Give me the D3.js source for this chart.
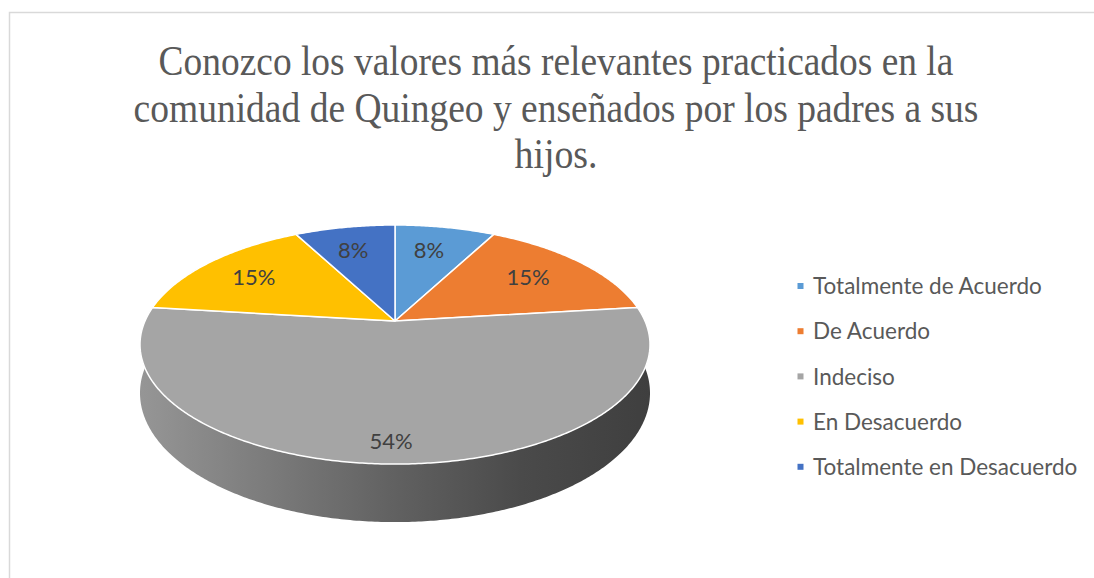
<!DOCTYPE html>
<html><head><meta charset="utf-8">
<script src="https://cdn.jsdelivr.net/npm/d3@7"></script>
<style>html,body{margin:0;padding:0;background:#fff;}svg{display:block;}</style>
</head><body>
<svg id="chart" width="1094" height="578"></svg>
<script>
const titleLines = ["Conozco los valores más relevantes practicados en la", "comunidad de Quingeo y enseñados por los padres a sus", "hijos."];
const categories = ["Totalmente de Acuerdo", "De Acuerdo", "Indeciso", "En Desacuerdo", "Totalmente en Desacuerdo"];
const values = [1, 2, 7, 2, 1];
const palette = ["#5B9BD5", "#ED7D31", "#A5A5A5", "#FFC000", "#4472C4"];

const svg = d3.select("#chart");
const W = 1094, H = 578;
svg.append("rect").attr("x", 9.5).attr("y", 12.5).attr("width", W + 10).attr("height", H + 10)
  .attr("fill", "#fff").attr("stroke", "#d9d9d9").attr("stroke-width", 1.5);

// Title (condensed serif, fitted to the reference line widths)
const titleWidths = [795, 845, 83];
const tg = svg.append("g");
titleLines.forEach((t, i) => {
  const g = tg.append("g").attr("transform", `translate(556, ${75 + i * 46.5})`);
  const txt = g.append("text").attr("text-anchor", "middle")
    .attr("font-family", "'Liberation Serif','Times New Roman',serif")
    .attr("font-size", 42).attr("fill", "#595959").text(t);
  const natural = txt.node().getComputedTextLength();
  txt.attr("transform", `scale(${titleWidths[i] / natural}, 1)`);
});

// 3D perspective pie projection
const cx = 395, cy = 321, A = 250, B = 114.9, K = 0.197, DEPTH = 46.6;
function proj(theta, r, drop) {
  const u = r * Math.sin(theta), v = r * Math.cos(theta);
  const w = 1 + K * v;
  return [cx + A * u / w, cy - B * v / w + (drop ? DEPTH / w : 0)];
}
const color = d3.scaleOrdinal().domain(categories).range(palette);
const total = d3.sum(values);
const pie = d3.pie().sort(null).value(d => d.value);
const arcs = pie(categories.map((c, i) => ({ cat: c, value: values[i] })));
const line = d3.line();
function samples(a0, a1) {
  const n = Math.max(2, Math.ceil(Math.abs(a1 - a0) / 0.01));
  return d3.range(n + 1).map(i => a0 + (a1 - a0) * i / n);
}

// side-wall gradients
const defs = svg.append("defs");
arcs.forEach((a, i) => {
  const base = d3.color(color(a.data.cat));
  const g = defs.append("linearGradient").attr("id", "side" + i)
    .attr("gradientUnits", "userSpaceOnUse").attr("x1", 139).attr("x2", 650).attr("y1", 0).attr("y2", 0);
  [[0, 0.27], [0.3, 0.95], [0.5, 1.5], [0.75, 2.25], [1, 2.7]].forEach(([o, k]) => {
    g.append("stop").attr("offset", o).attr("stop-color", base.darker(k).formatHex());
  });
});

// side walls (front region only)
const frontLo = Math.PI / 3, frontHi = Math.PI * 5 / 3;
const sideG = svg.append("g");
arcs.forEach((a, i) => {
  const s = Math.max(a.startAngle, frontLo), e = Math.min(a.endAngle, frontHi);
  if (e <= s) return;
  const ts = samples(s, e);
  const pts = ts.map(t => proj(t, 1, false)).concat(ts.slice().reverse().map(t => proj(t, 1, true)));
  sideG.append("path").attr("d", line(pts) + "Z").attr("fill", `url(#side${i})`);
});

// top faces
const topG = svg.append("g");
arcs.forEach((a, i) => {
  const pts = [proj(0, 0, false)].concat(samples(a.startAngle, a.endAngle).map(t => proj(t, 1, false)));
  topG.append("path").attr("d", line(pts) + "Z")
    .attr("fill", color(a.data.cat)).attr("stroke", "#fff").attr("stroke-width", 1.5).attr("stroke-linejoin", "round");
});

// data labels
const fmt = d3.format(".0%");
svg.append("g").selectAll("text").data(arcs).join("text")
  .attr("transform", d => {
    const mid = (d.startAngle + d.endAngle) / 2;
    const r = (d.endAngle - d.startAngle) > Math.PI ? 0.87 : 0.72;
    const p = proj(mid, r, false);
    return `translate(${p[0] - 4},${p[1]})`;
  })
  .attr("text-anchor", "middle").attr("dy", "0.35em")
  .attr("font-family", "Lato, 'Open Sans', sans-serif").attr("font-size", 22).attr("fill", "#404040")
  .text(d => fmt(d.value / total));

// legend
const leg = svg.append("g").selectAll("g").data(categories).join("g")
  .attr("transform", (d, i) => `translate(800, ${286 + i * 45.2})`);
leg.append("rect").attr("x", -2.5).attr("y", -3).attr("width", 6).attr("height", 6).attr("fill", d => color(d));
leg.append("text").attr("x", 13).attr("dy", "0.36em")
  .attr("font-family", "Lato, 'Open Sans', sans-serif").attr("font-size", 22.5).attr("fill", "#595959")
  .text(d => d);
</script>
</body></html>
